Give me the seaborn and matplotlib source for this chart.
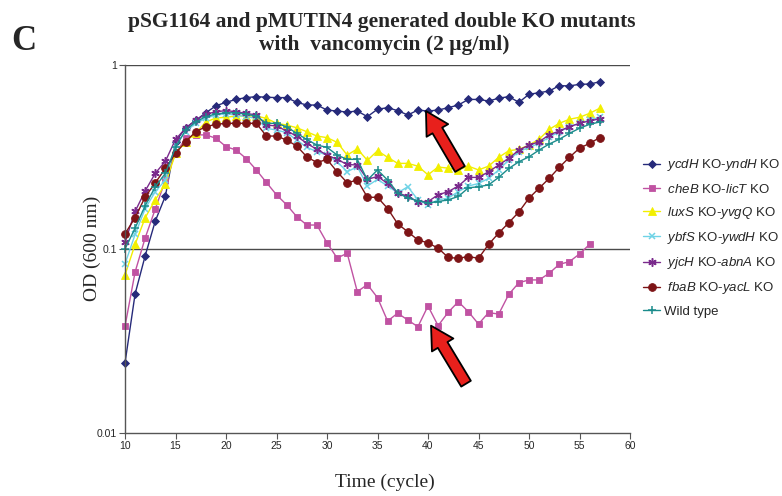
import numpy as np
import pandas as pd
import matplotlib
matplotlib.use("Agg")
import matplotlib.pyplot as plt
import seaborn as sns

cycles = list(range(10, 58))

ycdH_yndH = [0.024, 0.057, 0.092, 0.142, 0.194, 0.383, 0.455, 0.50, 0.55, 0.60, 0.627, 0.65,
             0.665, 0.673, 0.668, 0.665, 0.665, 0.627, 0.606, 0.606, 0.569, 0.562, 0.555, 0.562,
             0.524, 0.575, 0.586, 0.565, 0.535, 0.569, 0.562, 0.569, 0.586, 0.606, 0.65, 0.65,
             0.637, 0.66, 0.673, 0.627, 0.693, 0.707, 0.722, 0.772, 0.77, 0.785, 0.788, 0.81]
cheB_licT = [0.038, 0.075, 0.115, 0.165, 0.237, 0.33, 0.40, 0.417, 0.417, 0.40, 0.36, 0.345,
             0.31, 0.269, 0.23, 0.197, 0.174, 0.15, 0.135, 0.135, 0.108, 0.0893, 0.0948, 0.0586,
             0.0641, 0.0544, 0.0406, 0.0448, 0.0411, 0.0378, 0.049, 0.0383, 0.0453, 0.0517, 0.0456, 0.0391,
             0.0451, 0.0443, 0.0567, 0.0656, 0.0679, 0.0679, 0.0738, 0.0826, 0.0853, 0.094, 0.106, np.nan]
luxS_yvgQ = [0.0722, 0.106, 0.148, 0.185, 0.226, 0.331, 0.383, 0.427, 0.49, 0.515, 0.52, 0.528,
             0.528, 0.528, 0.513, 0.482, 0.472, 0.456, 0.434, 0.411, 0.403, 0.38, 0.324, 0.35,
             0.303, 0.342, 0.315, 0.292, 0.292, 0.282, 0.253, 0.279, 0.275, 0.269, 0.282, 0.269,
             0.282, 0.315, 0.342, 0.348, 0.367, 0.395, 0.447, 0.482, 0.507, 0.52, 0.546, 0.582]
ybfS_ywdH = [0.083, 0.12, 0.166, 0.205, 0.237, 0.367, 0.434, 0.482, 0.513, 0.535, 0.542, 0.535,
             0.524, 0.513, 0.453, 0.443, 0.429, 0.391, 0.357, 0.338, 0.324, 0.298, 0.263, 0.28,
             0.22, 0.239, 0.22, 0.202, 0.218, 0.185, 0.174, 0.185, 0.189, 0.205, 0.22, 0.227,
             0.242, 0.269, 0.305, 0.338, 0.357, 0.375, 0.405, 0.434, 0.462, 0.482, 0.502, 0.52]
yjcH_abnA = [0.109, 0.16, 0.207, 0.258, 0.30, 0.394, 0.453, 0.502, 0.54, 0.557, 0.565, 0.557,
             0.546, 0.535, 0.472, 0.466, 0.438, 0.411, 0.375, 0.348, 0.324, 0.307, 0.288, 0.286,
             0.239, 0.248, 0.227, 0.202, 0.193, 0.181, 0.181, 0.197, 0.205, 0.22, 0.245, 0.245,
             0.263, 0.286, 0.311, 0.345, 0.367, 0.383, 0.417, 0.438, 0.462, 0.482, 0.497, 0.51]
fbaB_yacL = [0.121, 0.148, 0.192, 0.229, 0.274, 0.331, 0.383, 0.434, 0.462, 0.476, 0.482, 0.482,
             0.482, 0.482, 0.411, 0.411, 0.391, 0.363, 0.317, 0.295, 0.307, 0.263, 0.229, 0.237,
             0.191, 0.191, 0.166, 0.137, 0.124, 0.112, 0.108, 0.101, 0.09, 0.089, 0.091, 0.089,
             0.106, 0.122, 0.139, 0.159, 0.189, 0.214, 0.242, 0.278, 0.315, 0.353, 0.375, 0.403]
wild_type = [0.10, 0.13, 0.172, 0.218, 0.258, 0.357, 0.443, 0.49, 0.524, 0.542, 0.55, 0.55,
             0.54, 0.528, 0.482, 0.482, 0.462, 0.425, 0.394, 0.367, 0.357, 0.324, 0.307, 0.307,
             0.237, 0.269, 0.237, 0.202, 0.189, 0.183, 0.178, 0.181, 0.185, 0.193, 0.215, 0.218,
             0.223, 0.245, 0.274, 0.298, 0.317, 0.345, 0.372, 0.395, 0.425, 0.453, 0.476, 0.49]

labels = [
    r" $\mathit{ycdH}$ KO-$\mathit{yndH}$ KO",
    r" $\mathit{cheB}$ KO-$\mathit{licT}$ KO",
    r" $\mathit{luxS}$ KO-$\mathit{yvgQ}$ KO",
    r" $\mathit{ybfS}$ KO-$\mathit{ywdH}$ KO",
    r" $\mathit{yjcH}$ KO-$\mathit{abnA}$ KO",
    r" $\mathit{fbaB}$ KO-$\mathit{yacL}$ KO",
    "Wild type",
]
series = [ycdH_yndH, cheB_licT, luxS_yvgQ, ybfS_ywdH, yjcH_abnA, fbaB_yacL, wild_type]

styles = [
    dict(color="#262a7a", marker="D", ms=4.3, mew=0.6),
    dict(color="#c052a2", marker="s", ms=5.0, mew=0.6),
    dict(color="#f2ef00", marker="^", ms=5.8, mew=0.6),
    dict(color="#6fd3e6", marker="x", ms=5.0, mew=1.1),
    dict(color="#7a2a8c", marker=(6, 2, 0), ms=6.0, mew=1.1),
    dict(color="#7d1416", marker="o", ms=5.6, mew=0.6),
    dict(color="#1b8c8c", marker="+", ms=6.2, mew=1.1),
]

sns.set_style("white")
plt.rcParams["font.family"] = ["Liberation Sans", "DejaVu Sans"]
plt.rcParams["mathtext.fontset"] = "custom"
plt.rcParams["mathtext.it"] = "Liberation Sans:italic"
plt.rcParams["mathtext.rm"] = "Liberation Sans"

fig = plt.figure(figsize=(7.82, 4.96), dpi=100)
ax = fig.add_axes([125 / 782, 1 - 433 / 496, 505 / 782, 368 / 496])

for vals, lab, st in zip(series, labels, styles):
    df = pd.DataFrame({"cycle": cycles, "od": vals}).dropna()
    sns.lineplot(data=df, x="cycle", y="od", ax=ax, color=st["color"], lw=1.0,
                 marker=st["marker"], markersize=st["ms"], markeredgewidth=st["mew"],
                 markeredgecolor=st["color"], markerfacecolor=st["color"], label=lab,
                 clip_on=False)

ax.set_yscale("log")
ax.set_ylim(0.01, 1)
ax.set_xlim(10, 60)
ax.set_xticks(range(10, 61, 5))
ax.set_yticks([0.01, 0.1, 1])
ax.set_yticklabels(["0.01", "0.1", "1"])
ax.yaxis.set_minor_locator(matplotlib.ticker.NullLocator())
for y in (0.1, 1):
    ax.axhline(y, color="#4a4a4a", lw=1.0, zorder=0)
for side in ("top", "right"):
    ax.spines[side].set_visible(False)
for side in ("left", "bottom"):
    ax.spines[side].set_color("#555555")
    ax.spines[side].set_linewidth(1.0)
ax.tick_params(axis="both", direction="out", length=4, width=0.8, color="#555555",
               labelsize=7.5, pad=2, bottom=True, left=True)

ax.set_xlabel("")
ax.set_ylabel("")
fig.text(385 / 782, 1 - 482 / 496, "Time (cycle)", ha="center", va="center",
         family="Liberation Serif", fontsize=14)
fig.text(92 / 782, 1 - 248 / 496, "OD (600 nm)", ha="center", va="center", rotation=90,
         family="Liberation Serif", fontsize=14)

fig.text(382 / 782, 1 - 22 / 496, "pSG1164 and pMUTIN4 generated double KO mutants",
         ha="center", va="center", family="Liberation Serif", weight="bold", fontsize=15.5)
fig.text(384 / 782, 1 - 45 / 496, "with  vancomycin (2 \u00b5g/ml)",
         ha="center", va="center", family="Liberation Serif", weight="bold", fontsize=15.5)
fig.text(11 / 782, 1 - 41 / 496, "C", ha="left", va="center", family="Liberation Serif",
         weight="bold", fontsize=25)

arrow = dict(arrowstyle="simple,head_length=0.9,head_width=1.0,tail_width=0.45",
             fc="#e8201c", ec="black", lw=1.3, shrinkA=0, shrinkB=0, mutation_scale=18)
ax.annotate("", xy=(39.8, ycdH_yndH[30]), xytext=(34, -58), textcoords="offset pixels",
            arrowprops=arrow)
ax.annotate("", xy=(40.3, cheB_licT[31]), xytext=(35, -58), textcoords="offset pixels",
            arrowprops=arrow)

leg = ax.legend(loc="upper left", bbox_to_anchor=(638 / 782, 1 - 152 / 496),
                bbox_transform=fig.transFigure, frameon=False, fontsize=9.5,
                handlelength=1.3, handletextpad=0.3, labelspacing=0.7, borderaxespad=0)

fig.savefig("out.png", dpi=100)
